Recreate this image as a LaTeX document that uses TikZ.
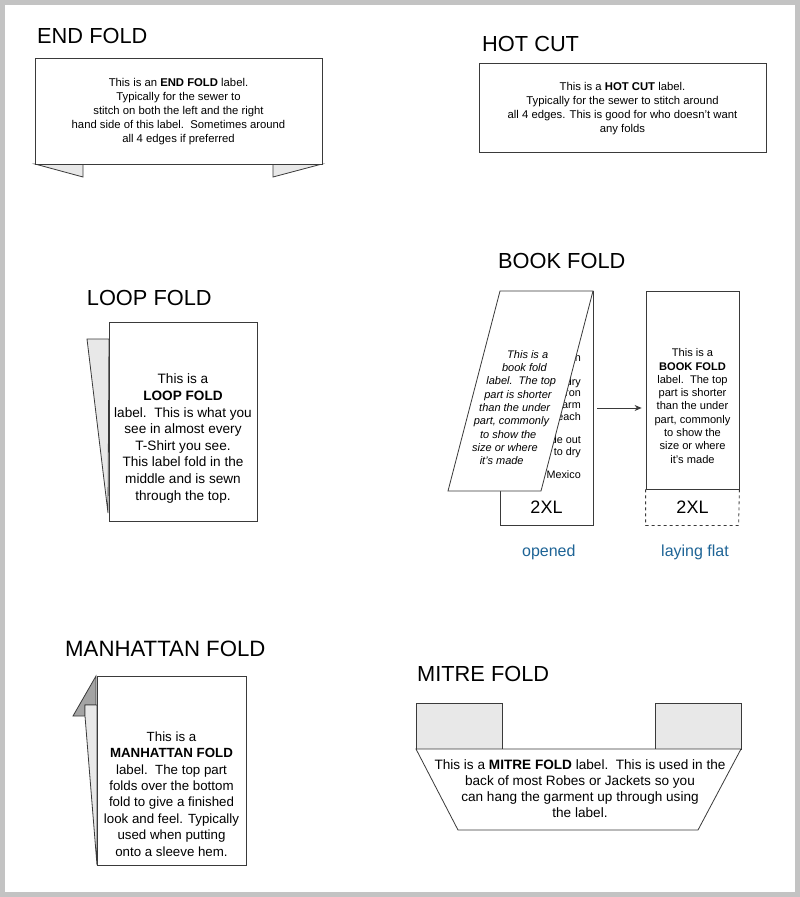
\documentclass[tikz,border=0pt]{standalone}
\usepackage{fontspec}
\setmainfont{Liberation Sans}
\usepackage{tikz}
\usetikzlibrary{positioning,calc,arrows.meta}
\definecolor{framec}{HTML}{C3C3C3}
\definecolor{linec}{HTML}{3A3A3A}
\definecolor{flapc}{HTML}{E8E8E8}
\definecolor{darkflapc}{HTML}{A4A4A4}
\definecolor{capc}{HTML}{1E6496}
\newcommand{\bft}[1]{\textbf{#1}}

\begin{document}
\begin{tikzpicture}[x=1pt,y=-1pt,
                    title/.style={anchor=base west, inner sep=0pt, font=\fontsize{21.8}{24}\selectfont},
                    small/.style={align=center, inner sep=0pt, font=\fontsize{11.3}{13.8}\selectfont},
                    body/.style={align=center, inner sep=0pt, font=\fontsize{13.6}{16.6}\selectfont},
                    box/.style={draw=linec, line width=0.8pt, fill=white, inner sep=0pt},
                    flap/.style={draw=linec, line width=0.8pt, fill=flapc},
                    big/.style={inner sep=0pt, font=\fontsize{18}{20}\selectfont},
                    caption/.style={anchor=base, inner sep=0pt, text=capc, font=\fontsize{16}{18}\selectfont}]
  \useasboundingbox (0,0) rectangle (800,897);
  \fill[framec] (0,0) rectangle (800,897);
  \fill[white] (5,5) rectangle (795,892);
  % END FOLD
  \node[title] (tend) at (37,43.3) {END FOLD};
  \filldraw[flap] (35,164) -- (83,164) -- (83,177) -- cycle;
  \filldraw[flap] (322,164) -- (273,164) -- (273,177) -- cycle;
  \node[box, minimum width=287pt, minimum height=106pt] (endb) at (178.5,111) {};
  \node[small] (endt) at (178.5,111.5) {This is an \bft{END FOLD} label.\\ Typically for the sewer to\\
    stitch on both the left and the right\\ hand side of this label.\ \ Sometimes around\\ all 4 edges if preferred};
  % HOT CUT
  \node[title] (thot) at (482,51.7) {HOT CUT};
  \node[box, minimum width=287pt, minimum height=89pt] (hotb) at (622.5,107.5) {};
  \node[small] (hott) at (622.5,108.5) {This is a \bft{HOT CUT} label.\\ Typically for the sewer to stitch around\\
    all 4 edges. This is good for who doesn't want\\ any folds};
  % LOOP FOLD
  \node[title] (tloop) at (86.7,305) {LOOP FOLD};
  \filldraw[flap] (109,339) -- (87,339) -- (108,513) -- cycle;
  \node[box, minimum width=148pt, minimum height=199pt] (loopb) at (183,421.5) {};
  \node[body] (loopt) at (183,438.5) {This is a\\ \bft{LOOP FOLD}\\ label.\ \ This is what you\\ see in almost every\\
    T-Shirt you see.\\ This label fold in the\\ middle and is sewn\\ through the top.};
  % BOOK FOLD: opened
  \node[title] (tbook) at (498,268.3) {BOOK FOLD};
  \node[box, minimum width=93pt, minimum height=234pt] (openb) at (546.5,408) {};
  \begin{scope}
    \clip (593,291) -- (593,525) -- (540,525) -- (540,491) -- cycle;
    \node[anchor=east, align=right, inner sep=0pt, font=\fontsize{10.8}{11.7}\selectfont] (backt) at (581,416.5)
      {100\% Cotton\\[11.7pt] Tumble dry\\ Cool iron\\ Wash warm\\ No bleach\\[11.7pt] Turn inside out\\ Hang to dry\\[11.7pt] Made in Mexico};
  \end{scope}
  \filldraw[box] (500,291) -- (593,291) -- (541,491) -- (448,491) -- cycle;
  \foreach \t [count=\i from 0] in {This is a, book fold, label.\ \ The top, part is shorter, than the under,
      {part, commonly}, to show the, size or where, it's made}
    {\node[anchor=base, inner sep=0pt, font=\fontsize{11}{12}\itshape] (bk\i) at (527.7-3.25*\i, 358.2+13.3*\i) {\t};}
  \node[big] (opensz) at (546.5,507) {2XL};
  \node[caption] (copen) at (548.8,556) {opened};
  % BOOK FOLD: laying flat
  \node[box, minimum width=93pt, minimum height=198pt] (flat) at (692.5,390) {};
  \draw[linec, line width=0.8pt, dashed] (flat.south west) -- ++(0,36) -- ++(93,0) -- (flat.south east);
  \node[small, font=\fontsize{11.1}{13.3}\selectfont] (flatt) at (692.5,406) {This is a\\ \bft{BOOK FOLD}\\ label.\ \ The top\\
    part is shorter\\ than the under\\ part, commonly\\ to show the\\ size or where\\ it's made};
  \node[big] (flatsz) at (692.5,507) {2XL};
  \node[caption] (cflat) at (695,556) {laying flat};
  \draw[linec, line width=0.7pt, -{Stealth[length=7pt,width=6pt]}, shorten <=4pt, shorten >=4pt]
    (openb.east) -- (openb.east -| flat.west);
  % MANHATTAN FOLD
  \node[title, font=\fontsize{22.2}{24}\selectfont] (tman) at (65,656.7) {MANHATTAN FOLD};
  \filldraw[draw=linec, line width=0.8pt, fill=darkflapc] (96,676) -- (73,716) -- (85,716) -- (85,705) -- (96,705) -- cycle;
  \filldraw[flap] (85,705) -- (97,705) -- (97,865) -- (85,716) -- cycle;
  \node[box, minimum width=149pt, minimum height=189pt] (manb) at (171.5,770.5) {};
  \node[body, font=\fontsize{13.3}{16.4}\selectfont] (mant) at (171.5,794) {This is a\\ \bft{MANHATTAN FOLD}\\ label.\ \ The top part\\ folds over the bottom\\
    fold to give a finished\\ look and feel. Typically\\ used when putting\\ onto a sleeve hem.};
  % MITRE FOLD
  \node[title] (tmitre) at (417,681.7) {MITRE FOLD};
  \filldraw[flap] (416,703) rectangle (502,749);
  \filldraw[flap] (655,703) rectangle (741,749);
  \filldraw[box] (416,749) -- (741,749) -- (698,830) -- (458,830) -- cycle;
  \node[body, font=\fontsize{13.6}{16}\selectfont] (mitt) at (580,788.5) {This is a \bft{MITRE FOLD} label.\ \ This is used in the\\
    back of most Robes or Jackets so you\\ can hang the garment up through using\\ the label.};
\end{tikzpicture}
\end{document}
